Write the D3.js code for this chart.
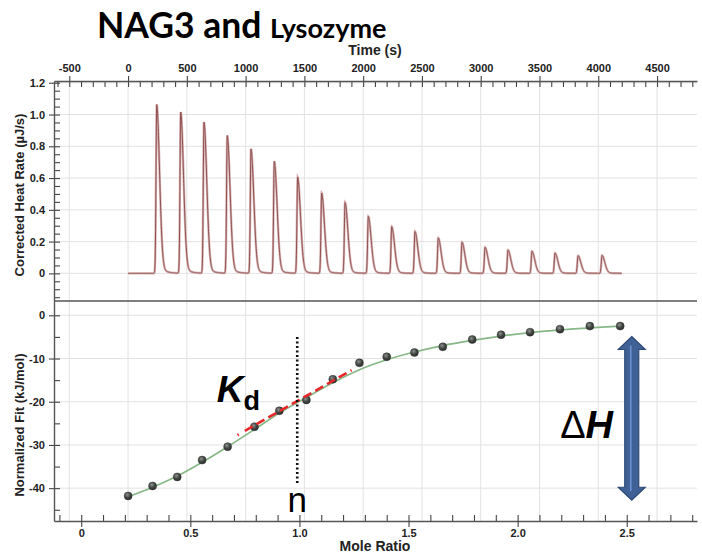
<!DOCTYPE html>
<html>
<head>
<meta charset="utf-8">
<script src="https://cdn.jsdelivr.net/npm/d3@7"></script>
<style>
  html, body { margin: 0; padding: 0; background: #fff; }
  svg { display: block; }
  .tick text { font-family: "Liberation Sans Narrow", "Arial Narrow", "Liberation Sans", Arial, sans-serif; font-weight: bold; font-size: 11px; fill: #222; }
  .lbl { font-family: "Liberation Sans Narrow", "Arial Narrow", "Liberation Sans", Arial, sans-serif; font-weight: bold; fill: #222; }
</style>
</head>
<body>
<svg id="chart" width="702" height="555"></svg>
<script>
// ---------------- data ----------------
// Top panel: injection peak times (s) and peak heights (µJ/s)
const peakTimes   = [244, 448, 646, 844, 1046, 1244, 1443, 1647, 1846, 2044, 2243, 2441, 2639, 2841, 3037, 3232, 3436, 3632, 3828, 4032];
const peakHeights = [1.063, 1.015, 0.951, 0.867, 0.783, 0.705, 0.606, 0.505, 0.446, 0.358, 0.294, 0.263, 0.223, 0.196, 0.164, 0.147, 0.139, 0.128, 0.111, 0.113];
const runStart = 0, runEnd = 4200;

// Bottom panel: integrated points (mole ratio, kJ/mol)
const moleRatio = [0.215, 0.327, 0.440, 0.554, 0.671, 0.794, 0.908, 1.032, 1.153, 1.275, 1.400, 1.527, 1.657, 1.792, 1.924, 2.057, 2.194, 2.331, 2.470];
const normFit   = [-41.8, -39.5, -37.4, -33.5, -30.4, -25.8, -22.1, -19.6, -14.8, -11.0, -9.6, -8.6, -7.3, -5.6, -4.5, -3.9, -3.2, -2.5, -2.5];
// Fitted curve values at the same mole ratios
const fitCurve  = [-42.0, -39.8, -37.2, -34.0, -30.4, -26.4, -22.6, -19.0, -15.6, -12.6, -10.3, -8.5, -7.0, -5.8, -4.8, -4.0, -3.4, -2.9, -2.5];

// Tick values
const timeTicks     = [-500, 0, 500, 1000, 1500, 2000, 2500, 3000, 3500, 4000, 4500];
const heatTicks     = [0, 0.2, 0.4, 0.6, 0.8, 1.0, 1.2];
const fitTicks      = [0, -10, -20, -30, -40];
const moleTicks     = [0, 0.5, 1.0, 1.5, 2.0, 2.5];

// Annotations (data space)
const kdLine   = [[0.716, -27.7], [1.239, -12.7]];
const nLine    = {x: 0.99, y1: -5.0, y2: -38.9};
const dHArrow  = {x: 2.523, top: -4.9, bottom: -42.8};

// ---------------- layout ----------------
const svg = d3.select("#chart");
const L = 54, R = 697, T1 = 81, B1 = 301, T2 = 301, B2 = 521;

const xTime = d3.scaleLinear().domain([-630, 4840]).range([L, R]);
const yHeat = d3.scaleLinear().domain([-0.174, 1.211]).range([B1, T1]);
const xMole = d3.scaleLinear().domain([-0.1247, 2.822]).range([L, R]);
const yFit  = d3.scaleLinear().domain([-47.6, 3.31]).range([B2, T2]);

const fmtDec = d => d === 0 ? "0" : d.toFixed(1);
const fmtInt = d => String(d);

// grid
const grid = svg.append("g").attr("stroke", "#e2e2e2").attr("stroke-width", 1);
timeTicks.forEach(t => {
  grid.append("line").attr("x1", xTime(t)).attr("x2", xTime(t)).attr("y1", T1).attr("y2", B2);
});
heatTicks.forEach(v => {
  grid.append("line").attr("x1", L).attr("x2", R).attr("y1", yHeat(v)).attr("y2", yHeat(v));
});
fitTicks.forEach(v => {
  grid.append("line").attr("x1", L).attr("x2", R).attr("y1", yFit(v)).attr("y2", yFit(v));
});

// ---------------- top thermogram ----------------
const samples = d3.range(runStart, runEnd + 1, 1);
function heat(t) {
  let s = 0;
  for (let i = 0; i < peakTimes.length; i++) {
    const dt = t - peakTimes[i];
    if (dt < 0) s += peakHeights[i] * Math.exp(-(dt * dt) / (2 * 6 * 6));
    else s += peakHeights[i] * (0.93 * Math.exp(-(dt * dt) / (2 * 24 * 24)) + 0.07 * Math.exp(-dt / 45));
  }
  return s;
}
const heatLine = d3.line().x(d => xTime(d)).y(d => yHeat(heat(d)));
svg.append("path").datum(samples).attr("d", heatLine)
  .attr("fill", "none").attr("stroke", "#d8b4b4").attr("stroke-width", 2.4);
svg.append("path").datum(samples).attr("d", heatLine)
  .attr("fill", "none").attr("stroke", "#8f5050").attr("stroke-width", 1);

// ---------------- bottom panel ----------------
const pts = moleRatio.map((m, i) => ({m, v: normFit[i], f: fitCurve[i]}));
svg.append("path").datum(pts)
  .attr("d", d3.line().x(d => xMole(d.m)).y(d => yFit(d.f)).curve(d3.curveCatmullRom))
  .attr("fill", "none").attr("stroke", "#86b886").attr("stroke-width", 1.7);

const defs = svg.append("defs");
const rg = defs.append("radialGradient").attr("id", "ball").attr("cx", "40%").attr("cy", "35%").attr("r", "65%");
rg.append("stop").attr("offset", "0%").attr("stop-color", "#8f938f");
rg.append("stop").attr("offset", "55%").attr("stop-color", "#454945");
rg.append("stop").attr("offset", "100%").attr("stop-color", "#2a2c2a");
svg.append("g").selectAll("circle").data(pts).join("circle")
  .attr("cx", d => xMole(d.m)).attr("cy", d => yFit(d.v)).attr("r", 4)
  .attr("fill", "url(#ball)").attr("stroke", "#353735").attr("stroke-width", 0.5);

// Kd red dashed tangent
svg.append("path").datum(kdLine)
  .attr("d", d3.line().x(d => xMole(d[0])).y(d => yFit(d[1])))
  .attr("stroke", "#e8262a").attr("stroke-width", 2.6).attr("fill", "none")
  .attr("stroke-dasharray", "1.5,7,9,4.5,9,4.5,9,4.5,9,4.5,9,4.5,9,4.5,9,4.5,9,4.5,9,4.5,9,4.5,9,4.5,9,4.5");

// n dotted line
svg.append("line")
  .attr("x1", xMole(nLine.x)).attr("x2", xMole(nLine.x))
  .attr("y1", yFit(nLine.y1)).attr("y2", yFit(nLine.y2))
  .attr("stroke", "#111").attr("stroke-width", 2.6).attr("stroke-dasharray", "2.2,2.3");

// Delta H double arrow
(function () {
  const cx = xMole(dHArrow.x), t = yFit(dHArrow.top), b = yFit(dHArrow.bottom);
  const hw = 13.5, hh = 13, sw = 7;
  const p = [[cx, t], [cx + hw, t + hh], [cx + sw, t + hh], [cx + sw, b - hh], [cx + hw, b - hh], [cx, b],
             [cx - hw, b - hh], [cx - sw, b - hh], [cx - sw, t + hh], [cx - hw, t + hh]];
  svg.append("polygon").attr("points", p.map(q => q.join(",")).join(" "))
    .attr("fill", "#3f6196").attr("stroke", "#2d4a77").attr("stroke-width", 1.2);
  svg.append("line").attr("x1", cx - 1).attr("x2", cx - 1).attr("y1", t + 9).attr("y2", b - 9)
    .attr("stroke", "#6c93cf").attr("stroke-width", 1.6);
})();

// annotation texts
svg.append("text").attr("x", xMole(0.621)).attr("y", yFit(-20.0))
  .attr("font-family", "Liberation Sans, Arial, sans-serif").attr("font-weight", "bold")
  .attr("font-style", "italic").attr("font-size", 37).attr("fill", "#000").text("K");
svg.append("text").attr("x", xMole(0.744)).attr("y", yFit(-21.9))
  .attr("font-family", "Liberation Sans, Arial, sans-serif").attr("font-weight", "bold")
  .attr("font-size", 27).attr("fill", "#000").text("d");
svg.append("text").attr("x", xMole(0.99)).attr("y", yFit(-45.5)).attr("text-anchor", "middle")
  .attr("font-family", "Liberation Sans, Arial, sans-serif")
  .attr("font-size", 35).attr("fill", "#000").text("n");
const dh = svg.append("text").attr("x", xMole(2.437)).attr("y", yFit(-28.5)).attr("text-anchor", "end")
  .attr("font-family", "Liberation Sans, Arial, sans-serif").attr("font-size", 38).attr("fill", "#000");
dh.append("tspan").text("Δ");
dh.append("tspan").attr("font-weight", "bold").attr("font-style", "italic").text("H");

// ---------------- axes ----------------
function styleAxis(g) {
  g.selectAll(".domain").attr("stroke", "#555").attr("stroke-width", 1.4);
  g.selectAll(".tick line").attr("stroke", "#444").attr("stroke-width", 1.1);
}
// top time axis
svg.append("g").attr("transform", `translate(0,${T1})`)
  .call(d3.axisTop(xTime).tickValues(d3.range(-600, 4801, 100)).tickSize(-6).tickSizeOuter(0).tickFormat(""))
  .call(styleAxis).call(g => g.select(".domain").remove());
svg.append("g").attr("transform", `translate(0,${T1})`)
  .call(d3.axisTop(xTime).tickValues(timeTicks).tickSize(5).tickSizeOuter(0).tickPadding(4).tickFormat(fmtInt))
  .call(styleAxis);

// left heat axis
svg.append("g").attr("transform", `translate(${L},0)`)
  .call(d3.axisLeft(yHeat).tickValues(d3.range(-0.15, 1.2001, 0.05)).tickSize(-6).tickSizeOuter(0).tickFormat(""))
  .call(styleAxis).call(g => g.select(".domain").remove());
svg.append("g").attr("transform", `translate(${L},0)`)
  .call(d3.axisLeft(yHeat).tickValues(heatTicks).tickSize(5).tickSizeOuter(0).tickPadding(4).tickFormat(fmtDec))
  .call(styleAxis);

// left fit axis
svg.append("g").attr("transform", `translate(${L},0)`)
  .call(d3.axisLeft(yFit).tickValues(d3.range(0, -46, -5)).tickSize(-6).tickSizeOuter(0).tickFormat(""))
  .call(styleAxis).call(g => g.select(".domain").remove());
svg.append("g").attr("transform", `translate(${L},0)`)
  .call(d3.axisLeft(yFit).tickValues(fitTicks).tickSize(5).tickSizeOuter(0).tickPadding(4).tickFormat(fmtInt))
  .call(styleAxis);

// bottom mole axis
svg.append("g").attr("transform", `translate(0,${B2})`)
  .call(d3.axisBottom(xMole).tickValues(d3.range(-0.1, 2.81, 0.1)).tickSize(-6).tickSizeOuter(0).tickFormat(""))
  .call(styleAxis).call(g => g.select(".domain").remove());
svg.append("g").attr("transform", `translate(0,${B2})`)
  .call(d3.axisBottom(xMole).tickValues(moleTicks).tickSize(6).tickSizeOuter(0).tickPadding(2).tickFormat(fmtDec))
  .call(styleAxis);

// separator between panels
svg.append("line").attr("x1", L).attr("x2", R).attr("y1", B1).attr("y2", B1)
  .attr("stroke", "#555").attr("stroke-width", 1.4);

// axis titles
svg.append("text").attr("class", "lbl").attr("x", 375).attr("y", 55).attr("text-anchor", "middle")
  .attr("font-size", 14).text("Time (s)");
svg.append("text").attr("class", "lbl").attr("x", 375).attr("y", 551).attr("text-anchor", "middle")
  .attr("font-size", 14).text("Mole Ratio");
svg.append("text").attr("class", "lbl").attr("transform", "translate(24,195) rotate(-90)")
  .attr("text-anchor", "middle").attr("font-size", 13).text("Corrected Heat Rate (µJ/s)");
svg.append("text").attr("class", "lbl").attr("transform", "translate(24,425) rotate(-90)")
  .attr("text-anchor", "middle").attr("font-size", 13).text("Normalized Fit (kJ/mol)");

// title
const title = svg.append("text").attr("x", 97).attr("y", 38)
  .attr("font-family", "Lato, 'Open Sans', sans-serif").attr("font-weight", "bold").attr("fill", "#000");
title.append("tspan").attr("font-size", 35.5).text("NAG3 and ");
title.append("tspan").attr("font-size", 27).text("Lysozyme");
</script>
</body>
</html>
